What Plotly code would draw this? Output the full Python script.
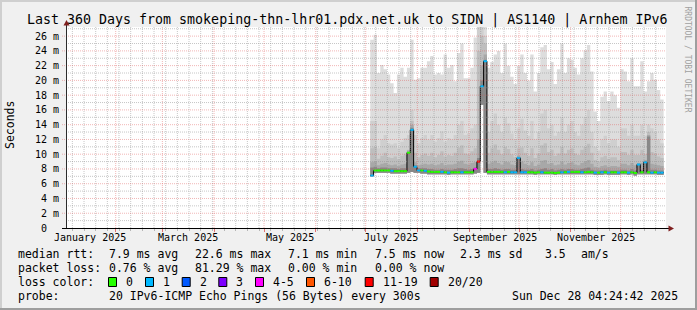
import plotly.graph_objects as go
import pandas as pd

# ---------------- data ----------------
BIN_START = "2025-07-03 18:00"
BIN_DAYS = 2
X_RANGE = ["2025-01-02 04:24:42", "2025-12-28 04:24:42"]

ping_max = [25.5, 26.2, 21.0, 22.1, 21.5, 20.8, 19.6, 18.3, 20.8, 21.7,
            20.5, 21.7, 25.5, 20.1, 20.3, 21.7, 21.7, 22.6, 23.3, 20.8,
            21.0, 20.8, 23.5, 21.7, 22.1, 19.9, 23.7, 25.0, 20.3, 20.3,
            21.7, 25.8, 28.0, 28.0, 28.0, 21.7, 22.5, 23.5, 24.0, 21.0,
            25.0, 22.0, 20.5, 19.5, 22.0, 23.5, 21.0, 20.0, 23.5, 18.5,
            21.0, 24.5, 24.8, 21.5, 22.5, 19.5, 21.5, 25.0, 21.0, 23.0,
            22.8, 21.7, 20.8, 23.0, 24.1, 24.8, 21.2, 15.8, 14.5, 17.8,
            18.5, 17.2, 18.5, 18.0, 16.3, 21.5, 21.2, 19.9, 23.0, 19.2,
            19.2, 22.6, 18.5, 19.9, 21.0, 20.1, 18.7, 17.4]

ping_p90 = [14.5, 14.5, 10.8, 12.0, 12.6, 11.5, 11.3, 11.5, 10.8, 11.7,
            12.2, 12.6, 16.0, 12.6, 11.5, 12.2, 12.6, 12.0, 12.6, 11.7,
            12.2, 13.1, 11.7, 12.2, 12.0, 12.6, 14.0, 14.5, 12.6, 12.8,
            13.5, 14.0, 28.0, 28.0, 26.0, 13.0, 14.5, 15.5, 14.0, 13.0,
            15.0, 14.2, 12.8, 12.0, 13.5, 14.8, 13.2, 12.5, 14.5, 12.0,
            13.0, 15.5, 16.0, 13.5, 14.0, 12.5, 13.0, 15.0, 13.0, 14.0,
            14.5, 13.0, 12.5, 14.0, 15.0, 16.0, 13.0, 11.0, 10.5, 12.0,
            12.5, 11.5, 12.0, 12.0, 11.0, 13.5, 13.5, 12.5, 14.0, 12.5,
            12.5, 14.0, 12.5, 14.0, 13.5, 13.0, 12.0, 11.5]

ping_p75 = [10.8, 11.0, 9.4, 9.8, 10.2, 9.6, 9.5, 9.7, 9.3, 9.8,
            10.0, 10.6, 14.5, 10.2, 9.6, 9.9, 10.1, 9.8, 10.2, 9.6,
            9.9, 10.4, 9.7, 9.9, 9.8, 10.2, 10.9, 11.2, 10.1, 10.0,
            10.4, 10.8, 24.0, 26.0, 25.0, 10.2, 10.8, 11.3, 10.6, 10.0,
            11.0, 10.7, 10.0, 9.6, 10.8, 10.9, 10.2, 9.8, 10.8, 9.5,
            10.1, 11.2, 11.5, 10.3, 10.6, 9.8, 10.1, 11.0, 10.1, 10.6,
            10.8, 10.1, 9.9, 10.6, 11.0, 11.4, 10.2, 9.2, 9.0, 9.6,
            9.8, 9.4, 9.6, 9.6, 9.2, 10.3, 10.3, 9.9, 10.6, 9.9,
            9.9, 10.6, 10.0, 13.0, 10.3, 10.1, 9.7, 9.5]

ping_p60 = [8.9, 9.0, 8.5, 8.7, 8.8, 8.6, 8.5, 8.6, 8.4, 8.6,
            8.7, 10.5, 14.0, 8.9, 8.5, 8.6, 8.7, 8.6, 8.7, 8.5,
            8.6, 8.8, 8.5, 8.6, 8.6, 8.7, 9.0, 9.1, 8.7, 8.6,
            8.8, 8.9, 12.0, 22.0, 23.5, 8.7, 8.9, 9.1, 8.8, 8.6,
            9.0, 8.9, 8.6, 8.5, 9.8, 9.0, 8.7, 8.5, 8.9, 8.4,
            8.6, 9.1, 9.2, 8.7, 8.8, 8.5, 8.6, 9.0, 8.6, 8.8,
            8.9, 8.6, 8.5, 8.8, 9.0, 9.2, 8.7, 8.3, 8.2, 8.4,
            8.5, 8.3, 8.4, 8.4, 8.3, 8.7, 8.7, 8.5, 8.8, 8.5,
            8.8, 8.8, 9.2, 12.6, 8.7, 8.6, 8.5, 8.4]

ping_p55 = [8.2, 8.3, 8.1, 8.2, 8.2, 8.1, 8.1, 8.1, 8.0, 8.1,
            8.1, 10.3, 13.6, 8.5, 8.1, 8.1, 8.1, 8.0, 8.0, 7.9,
            7.9, 8.0, 7.9, 7.9, 7.9, 8.0, 8.1, 8.1, 8.0, 7.9,
            8.0, 8.2, 9.5, 20.0, 22.8, 8.0, 8.0, 8.1, 8.0, 7.9,
            8.0, 8.0, 7.9, 7.9, 9.6, 8.0, 7.9, 7.9, 8.0, 7.8,
            7.9, 8.0, 8.1, 7.9, 8.0, 7.8, 7.9, 8.0, 7.9, 8.0,
            8.0, 7.9, 7.9, 8.0, 8.1, 8.2, 7.9, 7.8, 7.8, 7.8,
            7.9, 7.8, 7.8, 7.8, 7.8, 7.9, 7.9, 7.8, 8.0, 7.8,
            8.7, 7.9, 9.0, 12.4, 7.9, 7.9, 7.8, 7.8]

ping_min = [7.0, 7.5, 7.5, 7.5, 7.5, 7.5, 7.4, 7.4, 7.4, 7.4,
            7.4, 7.5, 7.6, 7.5, 7.5, 7.4, 7.4, 7.3, 7.3, 7.3,
            7.3, 7.3, 7.3, 7.2, 7.3, 7.3, 7.3, 7.3, 7.3, 7.3,
            7.3, 7.4, 7.5, 16.7, 7.5, 7.3, 7.3, 7.3, 7.3, 7.3,
            7.3, 7.3, 7.3, 7.3, 7.3, 7.3, 7.3, 7.3, 7.3, 7.2,
            7.3, 7.3, 7.3, 7.3, 7.3, 7.2, 7.3, 7.3, 7.3, 7.3,
            7.3, 7.3, 7.3, 7.3, 7.3, 7.3, 7.3, 7.2, 7.2, 7.2,
            7.3, 7.2, 7.2, 7.2, 7.2, 7.3, 7.3, 7.2, 7.3, 7.1,
            7.3, 7.3, 7.3, 7.3, 7.3, 7.3, 7.2, 7.2]

median_rtt = [7.1, 7.8, 7.8, 7.8, 7.8, 7.8, 7.75, 7.7, 7.7, 7.7,
              7.7, 10.2, 13.3, 8.3, 7.8, 7.8, 7.75, 7.65, 7.6, 7.6,
              7.6, 7.6, 7.55, 7.5, 7.55, 7.55, 7.55, 7.55, 7.55, 7.55,
              7.55, 8.0, 9.0, 19.2, 22.6, 7.6, 7.6, 7.6, 7.6, 7.6,
              7.55, 7.6, 7.55, 7.55, 9.5, 7.55, 7.55, 7.55, 7.55, 7.5,
              7.55, 7.55, 7.5, 7.5, 7.5, 7.45, 7.5, 7.55, 7.55, 7.6,
              7.6, 7.6, 7.6, 7.55, 7.55, 7.6, 7.55, 7.5, 7.5, 7.55,
              7.55, 7.5, 7.55, 7.55, 7.5, 7.55, 7.55, 7.5, 7.55, 7.45,
              8.6, 7.55, 8.9, 7.55, 7.5, 7.55, 7.5, 7.5]

lost_pings = [1, 0, 0, 0, 0, 0, 1, 0, 0, 0,
              0, 0, 1, 1, 1, 0, 1, 0, 0, 0,
              0, 1, 0, 1, 0, 0, 0, 1, 0, 0,
              0, 4, 16, 1, 1, 0, 0, 0, 0, 0,
              1, 0, 1, 1, 1, 1, 1, 0, 0, 0,
              0, 1, 0, 0, 0, 0, 0, 1, 0, 1,
              0, 0, 0, 1, 0, 0, 0, 1, 0, 1,
              0, 1, 0, 0, 1, 0, 0, 1, 0, 0,
              1, 0, 1, 0, 1, 0, 1, 1]

loss_labels = ["0", "1", "2", "3", "4-5", "6-10", "11-19", "20/20"]
loss_upper = [0, 1, 2, 3, 5, 10, 19, 20]
loss_colors = ["#26ff00", "#00b8ff", "#0059ff", "#7e00ff", "#ff00ff", "#ff5500", "#ff0000", "#a10000"]
loss_label_px = [124, 161, 197.7, 234.3, 271, 322, 380.7, 445.7]

month_starts = ["2025-02-01", "2025-03-01", "2025-04-01", "2025-05-01", "2025-06-01", "2025-07-01",
                "2025-08-01", "2025-09-01", "2025-10-01", "2025-11-01", "2025-12-01"]
month_label_dates = ["2025-01-16 08:00", "2025-03-16 08:00", "2025-05-16 08:00",
                     "2025-07-16 08:00", "2025-09-16 08:00", "2025-11-16 08:00"]
month_labels = ["January 2025", "March 2025", "May 2025", "July 2025", "September 2025", "November 2025"]
y_ticks = [0, 2, 4, 6, 8, 10, 12, 14, 16, 18, 20, 22, 24, 26]
y_tick_text = ["0\u00a0\u00a0", "2 m", "4 m", "6 m", "8 m", "10 m", "12 m", "14 m", "16 m",
               "18 m", "20 m", "22 m", "24 m", "26 m"]
y_minor = list(range(1, 28, 2))

title = "Last 360 Days from smokeping-thn-lhr01.pdx.net.uk to SIDN | AS1140 | Arnhem IPv6"
rtt_stats = [("median rtt:", 16), ("7.9 ms avg", 107.3), ("22.6 ms max", 193.3), ("7.1 ms min", 286),
             ("7.5 ms now", 372.7), ("2.3 ms sd", 458.3), ("3.5", 543.3), ("am/s", 579.3)]
loss_stats = [("packet loss:", 16), ("0.76 % avg", 107.3), ("81.29 % max", 193.3),
              ("0.00 % min", 286), ("0.00 % now", 372.7)]
probe_text = "20 IPv6-ICMP Echo Pings (56 Bytes) every 300s"
stamp_text = "Sun Dec 28 04:24:42 2025"

# ---------------- geometry ----------------
FW, FH = 697, 310
L, T, PW, PH = 66, 27, 600, 201
Y_TOP = PH / 7.38
FONT = "DejaVu Sans Mono"


def px(x):
    return (x - L) / PW


def py(y):
    return (T + PH - y) / PH


edges = pd.date_range(BIN_START, periods=len(ping_max) + 1, freq=f"{BIN_DAYS}D")
xe = [d.strftime("%Y-%m-%d %H:%M") for d in edges]


def step(vals):
    return list(vals) + [vals[-1]]


def loss_class(n):
    for i, u in enumerate(loss_upper):
        if n <= u:
            return i
    return len(loss_upper) - 1


fig = go.Figure()

bands = [(ping_max, "#dddddd"), (ping_p90, "#cfcfcf"), (ping_p75, "#bebebe"),
         (ping_p60, "#a8a8a8"), (ping_p55, "#888888")]
for vals, col in bands:
    fig.add_trace(go.Scatter(x=xe, y=step(ping_min), mode="lines",
                             line=dict(width=0, shape="hv"), hoverinfo="skip", showlegend=False))
    fig.add_trace(go.Scatter(x=xe, y=step(vals), mode="lines", line=dict(width=0, shape="hv"),
                             fill="tonexty", fillcolor=col, hoverinfo="skip", showlegend=False))

fig.add_trace(go.Scatter(x=xe, y=step(median_rtt), mode="lines",
                         line=dict(color="black", width=1, shape="hv"),
                         hoverinfo="skip", showlegend=False))

for ci, col in enumerate(loss_colors):
    xs, ys = [], []
    for k, (m, lp) in enumerate(zip(median_rtt, lost_pings)):
        if loss_class(lp) == ci:
            xs += [xe[k], xe[k + 1], None]
            ys += [m, m, None]
    if xs:
        fig.add_trace(go.Scatter(x=xs, y=ys, mode="lines", line=dict(color=col, width=2),
                                 hoverinfo="skip", showlegend=False))

shapes = []
RED = "rgba(222,81,81,0.42)"
GREY = "rgba(143,143,143,0.5)"
# grid (drawn above the smoke like rrdtool)
mondays = pd.date_range("2025-01-06", X_RANGE[1], freq="7D")
ms_set = set(month_starts)
for d in mondays:
    s = d.strftime("%Y-%m-%d")
    if s in ms_set:
        continue
    shapes.append(dict(type="line", xref="x", yref="paper", x0=s, x1=s, y0=0, y1=1,
                       line=dict(color=GREY, width=1, dash="1px,1px"), layer="above"))
for v in y_minor:
    shapes.append(dict(type="line", xref="paper", yref="y", x0=0, x1=1, y0=v, y1=v,
                       line=dict(color=GREY, width=1, dash="1px,1px"), layer="above"))
for s in month_starts:
    shapes.append(dict(type="line", xref="x", yref="paper", x0=s, x1=s, y0=0, y1=1,
                       line=dict(color=RED, width=1, dash="1px,1px"), layer="above"))
for v in y_ticks[1:]:
    shapes.append(dict(type="line", xref="paper", yref="y", x0=px(62), x1=1, y0=v, y1=v,
                       line=dict(color=RED, width=1, dash="1px,1px"), layer="above"))

# axes with arrows
shapes.append(dict(type="line", xref="paper", yref="paper", x0=px(66.5), x1=px(66.5),
                   y0=py(228), y1=py(24), line=dict(color="#2c2c2c", width=1)))
shapes.append(dict(type="path", xref="paper", yref="paper",
                   path=f"M {px(66.5)},{py(20)} L {px(63.5)},{py(25.5)} L {px(69.5)},{py(25.5)} Z",
                   fillcolor="#7f1f1f", line=dict(width=0)))
shapes.append(dict(type="line", xref="paper", yref="paper", x0=px(62), x1=px(669),
                   y0=py(228.5), y1=py(228.5), line=dict(color="black", width=1)))
shapes.append(dict(type="path", xref="paper", yref="paper",
                   path=f"M {px(674)},{py(228.5)} L {px(668.5)},{py(225.5)} L {px(668.5)},{py(231.5)} Z",
                   fillcolor="#7f1f1f", line=dict(width=0)))

# rrdtool frame shading
shapes.append(dict(type="rect", xref="paper", yref="paper", x0=px(0), x1=px(FW), y0=py(0), y1=py(2),
                   fillcolor="#cfcfcf", line=dict(width=0)))
shapes.append(dict(type="rect", xref="paper", yref="paper", x0=px(0), x1=px(2), y0=py(0), y1=py(FH),
                   fillcolor="#cfcfcf", line=dict(width=0)))
shapes.append(dict(type="rect", xref="paper", yref="paper", x0=px(0), x1=px(FW), y0=py(FH - 2), y1=py(FH),
                   fillcolor="#9e9e9e", line=dict(width=0)))
shapes.append(dict(type="rect", xref="paper", yref="paper", x0=px(FW - 2), x1=px(FW), y0=py(0), y1=py(FH),
                   fillcolor="#9e9e9e", line=dict(width=0)))

# loss colour boxes
for lx, col in zip(loss_label_px, loss_colors):
    shapes.append(dict(type="rect", xref="paper", yref="paper", x0=px(lx - 15.5), x1=px(lx - 7.5),
                       y0=py(286.5), y1=py(277.5), fillcolor=col, line=dict(color="black", width=1)))

ann = []


def text(s, x, y, size=11.5, xanchor="left", color="black", angle=0, xref="paper"):
    ann.append(dict(text=s, x=x if xref != "paper" else px(x), y=py(y), xref=xref, yref="paper",
                    xanchor=xanchor, yanchor="middle", showarrow=False, textangle=angle,
                    font=dict(family=FONT, size=size, color=color)))


text(title, 347, 19.5, size=13.3, xanchor="center")
text("Seconds", 10, 125, size=11.5, xanchor="center", angle=-90)
text("RRDTOOL / TOBI OETIKER", 687.5, 59, size=8, xanchor="center", color="#a0a0a0", angle=90)
for d, lab in zip(month_label_dates, month_labels):
    text(lab, d, 237.8, size=10, xanchor="center", xref="x")
for s, x in rtt_stats:
    text(s, x, 254.3)
for s, x in loss_stats:
    text(s, x, 268.3)
text("loss color:", 16, 282.3)
for lx, lab in zip(loss_label_px, loss_labels):
    text(lab, lx, 282.3)
text("probe:", 16, 296.2)
text(probe_text, 107.3, 296.2)
text(stamp_text, 680, 296.2, xanchor="right")

fig.update_layout(
    width=FW, height=FH, autosize=False,
    margin=dict(l=L, r=FW - L - PW, t=T, b=FH - T - PH, pad=0),
    paper_bgcolor="#f0f0f0", plot_bgcolor="white",
    showlegend=False, shapes=shapes, annotations=ann,
    xaxis=dict(type="date", range=X_RANGE, tickmode="array", tickvals=month_starts,
               showticklabels=False, showgrid=False, zeroline=False, showline=False,
               ticks="outside", ticklen=3, tickcolor="rgba(222,81,81,0.8)",
               minor=dict(tickmode="linear", tick0="2024-12-30", dtick=7 * 86400000,
                          ticks="outside", ticklen=2, tickcolor="rgba(143,143,143,0.6)",
                          showgrid=False),
               fixedrange=True),
    yaxis=dict(range=[0, Y_TOP], tickmode="array", tickvals=y_ticks, ticktext=y_tick_text,
               tickfont=dict(family=FONT, size=10, color="black"),
               showgrid=False, zeroline=False, showline=False, ticks="",
               ticklabelstandoff=6, fixedrange=True),
)

fig.write_html("out.html")
